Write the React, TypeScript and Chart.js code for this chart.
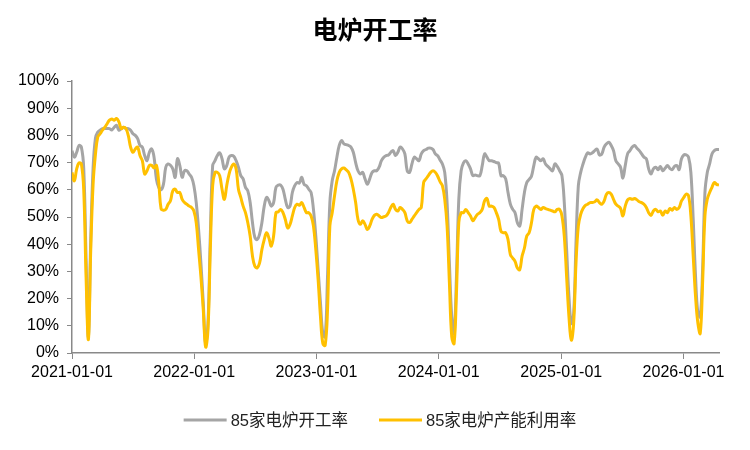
import React, { useEffect, useRef } from "react";
import { Chart, registerables } from "chart.js";

Chart.register(...registerables);

const TITLE = "电炉开工率";
const SERIES_NAMES = ["85家电炉开工率", "85家电炉产能利用率"];
const START_DATE = "2021-01-01";
const X_TICK_YEARS = [2021, 2022, 2023, 2024, 2025, 2026];
const Y_TICKS = [0, 10, 20, 30, 40, 50, 60, 70, 80, 90, 100];

// 85家电炉开工率 (weekly, %)
const operatingRate = [
  74.4, 72, 73.8, 76.3, 75.7, 68, 35, 6, 42, 68,
  79, 81.2, 81.9, 82.5, 82.5, 82.5, 82.5, 82, 83, 83.7,
  81.9, 82.5, 83, 82.5, 82.5, 81.9, 80.6, 80, 78.8, 76.3,
  75.7, 72.6, 70.7, 73.8, 75, 72, 64, 60.9, 60, 62,
  68.3, 69.5, 69, 67.7, 64.6, 71.4, 68.9, 64.6, 67, 67,
  65.8, 64.6, 61.5, 55.3, 45.4, 33, 18.3, 3.5, 10.9, 43,
  68.9, 70.7, 72.6, 73.6, 71.4, 67.7, 68.9, 72, 72.6, 72.3,
  70.7, 68.3, 65.2, 64, 60.9, 59.6, 55.3, 47.9, 42.5, 41.7,
  43.6, 47.9, 54, 57.2, 56, 54, 55.3, 60.9, 61.7, 61.7,
  60.2, 56.5, 53.5, 54, 59, 61.5, 62.7, 62.5, 64.6, 62,
  61.5, 60.2, 59, 52.8, 43, 30.6, 18.3, 7.2, 5.9, 28,
  55.3, 63.3, 67, 72, 76.3, 78.1, 76.9, 76.6, 76.3, 75.7,
  73.8, 70, 67, 65.8, 66.4, 64, 62, 64, 66.4, 67,
  67, 68.3, 70.7, 72, 72.6, 72.8, 73.8, 74.4, 72.6, 73.8,
  75.7, 75, 73.2, 67, 66.4, 69.5, 72, 71.4, 70.7, 73.2,
  74.4, 74.8, 75.3, 75.3, 74.8, 73.2, 72.5, 71, 69.5, 66.4,
  55.3, 33, 13.3, 7.2, 28, 56.5, 67, 69.9, 70.7, 69.5,
  67.7, 65.2, 65.4, 65.2, 65.2, 68.9, 73.2, 72, 70.7, 70.7,
  70.4, 70, 69.8, 65.2, 65.2, 64, 59, 54.7, 52.8, 51.6,
  47.9, 46.7, 52.8, 59, 62.7, 63.8, 65, 68.9, 72, 71.4,
  70.7, 71.4, 69.5, 68.6, 67.7, 67, 69.5, 68.6, 67, 65.2,
  55.3, 38, 20.7, 10.9, 14.6, 40.5, 61.5, 66.4, 69.5, 72,
  73.6, 73.2, 73.6, 74.4, 75, 72.8, 73.2, 75.7, 76.9, 77.5,
  76.3, 74.4, 70.7, 69.5, 68.3, 64.3, 68.9, 73.2, 74.4, 75.7,
  76.3, 75.3, 74.4, 73.2, 72, 71.4, 67.7, 65.8, 67.7, 68.3,
  67.4, 68.6, 67, 67.9, 68.9, 67.9, 67.4, 68.6, 68.9, 67.4,
  71.4, 72.8, 72.8, 72, 66.4, 49.1, 28, 14.6, 13.3, 30.6,
  59, 66.4, 69.5, 73.2, 74.4, 74.8, 74.8,
];

// 85家电炉产能利用率 (weekly, %)
const capacityUtil = [
  66.4, 63.3, 67.7, 69.9, 69.5, 60, 28, 5, 38, 62,
  73, 79.4, 80.6, 81.9, 83, 84.3, 85.6, 86, 85.6, 86.2,
  85, 82.5, 83, 82.5, 80, 75.7, 73.8, 75, 75.7, 72.6,
  70.7, 65.8, 67, 68.9, 69, 68, 69, 62.7, 53, 52.5,
  52.8, 54.7, 56, 59.6, 60.2, 59, 59, 56.5, 55.3, 54.7,
  54, 53.5, 52.2, 47.9, 38, 28, 15.8, 2.2, 8.4, 38,
  61.5, 66.4, 66.4, 65.2, 60.2, 56.5, 61.5, 65.8, 68.3, 69.5,
  67.7, 60.2, 57.2, 54, 51.6, 47.9, 43, 35.6, 31.9, 31.3,
  33, 38, 41.7, 44.2, 42.3, 39.3, 43, 51.6, 51.9, 52.8,
  51.6, 49.1, 46, 47.3, 50.4, 53.5, 54.7, 54.3, 55.3, 53.5,
  51.6, 51.6, 50.4, 46.7, 38, 26.9, 13.3, 3.5, 2.8, 15.8,
  46.7, 51.6, 57.8, 63.3, 66.4, 67.7, 68, 67.3, 66.4, 64,
  60.2, 55.3, 49.1, 47.3, 48.6, 47.3, 45.4, 46.7, 49.1, 50.6,
  51, 50.4, 49.8, 50.1, 50.4, 51.6, 53.5, 54.7, 52.8, 52.2,
  53.5, 52.8, 51.6, 48.6, 48, 49.1, 50.4, 51.6, 52.8, 53.5,
  62.7, 64, 65.2, 66.4, 67, 66.4, 65, 63, 61.5, 56.5,
  46.7, 25.7, 5.9, 3.5, 22, 47.9, 51.6, 51.6, 52.8, 51.6,
  50.4, 48.6, 49.8, 51, 51.6, 52.8, 55.9, 56.8, 54, 54,
  53.5, 51.6, 49.1, 44.8, 44.2, 44.2, 41.7, 36.2, 34.9, 33.7,
  31.2, 30.6, 35.6, 38.6, 43, 44.2, 47.9, 52.8, 54, 53.5,
  52.8, 53.5, 53.1, 52.8, 52.5, 52.2, 51.9, 52.8, 52.8, 50.4,
  43, 28, 13.3, 4.7, 10.9, 33, 46.7, 51, 53.1, 54.3,
  54.7, 55.3, 55.3, 55.6, 56.3, 55.3, 54.7, 55.9, 58.4, 59,
  58.4, 56.5, 54.7, 54, 53.2, 50.4, 54, 56.3, 56.8, 56.5,
  56.8, 56.3, 55.6, 55.3, 54.7, 53.5, 51.6, 50.6, 52.2, 52.8,
  51.9, 52.2, 50.6, 52.2, 51.6, 53.1, 52.5, 53.5, 52.8, 53.5,
  55.9, 57.2, 58.4, 57.8, 50.4, 35.6, 20.7, 10.9, 7.2, 25.7,
  50.4, 56.5, 59, 60.9, 62.7, 62, 61.7,
];

const COLORS = ["#A5A5A5", "#FFC000"];
const FONT = "'Liberation Sans', Arial, 'Noto Sans CJK SC', sans-serif";
const DAY = 86400000;

export default function App() {
  const ref = useRef<HTMLCanvasElement | null>(null);

  useEffect(() => {
    if (!ref.current) return;
    const start = Date.parse(START_DATE + "T00:00:00Z");
    const weekDates = operatingRate.map((_, i) => start + i * 7 * DAY);
    const toPts = (arr: number[]) => arr.map((v, i) => ({ x: weekDates[i], y: v }));

    const legendPlugin = {
      id: "customLegend",
      afterDraw(chart: any) {
        const ctx = chart.ctx as CanvasRenderingContext2D;
        ctx.save();
        ctx.font = `16.5px ${FONT}`;
        const lineLen = 43;
        const gap = 4;
        const itemGap = 31;
        const widths = SERIES_NAMES.map((n) => ctx.measureText(n).width);
        const total = widths.reduce((a, w) => a + lineLen + gap + w, 0) + itemGap * (SERIES_NAMES.length - 1);
        let x = 380 - total / 2;
        const y = 420;
        SERIES_NAMES.forEach((name, i) => {
          ctx.strokeStyle = COLORS[i];
          ctx.lineWidth = 3;
          ctx.beginPath();
          ctx.moveTo(x, y);
          ctx.lineTo(x + lineLen, y);
          ctx.stroke();
          x += lineLen + gap;
          ctx.fillStyle = "#222";
          ctx.textBaseline = "middle";
          ctx.textAlign = "left";
          ctx.fillText(name, x, y + 1);
          x += widths[i] + itemGap;
        });
        ctx.restore();
      },
    };

    const chart = new Chart(ref.current, {
      type: "line",
      data: {
        datasets: [
          {
            label: SERIES_NAMES[0],
            data: toPts(operatingRate),
            borderColor: COLORS[0],
            backgroundColor: COLORS[0],
            borderWidth: 3,
            pointRadius: 0,
            tension: 0.4,
            order: 1,
          },
          {
            label: SERIES_NAMES[1],
            data: toPts(capacityUtil),
            borderColor: COLORS[1],
            backgroundColor: COLORS[1],
            borderWidth: 3,
            pointRadius: 0,
            tension: 0.4,
            order: 0,
          },
        ],
      },
      options: {
        animation: false,
        responsive: true,
        maintainAspectRatio: false,
        layout: { padding: { left: 0, right: 0, top: 0, bottom: 0 } },
        plugins: {
          legend: { display: false },
          tooltip: { enabled: false },
          title: {
            display: true,
            text: TITLE,
            color: "#000",
            font: { size: 25, weight: "bold", family: FONT },
            padding: { top: 17, bottom: 34 },
          },
        },
        scales: {
          x: {
            type: "linear",
            min: start,
            max: weekDates[weekDates.length - 1],
            afterBuildTicks: (s: any) => {
              s.ticks = X_TICK_YEARS.map((y) => ({ value: Date.UTC(y, 0, 1) }));
            },
            afterFit: (s: any) => {
              s.height = 97;
              s.paddingRight = 31;
            },
            ticks: {
              autoSkip: false,
              maxRotation: 0,
              color: "#000",
              padding: 4,
              font: { size: 16, family: FONT },
              callback: (v: any) => {
                const d = new Date(Number(v));
                return `${d.getUTCFullYear()}-01-01`;
              },
            },
            grid: { drawOnChartArea: false, drawTicks: true, tickLength: 6, color: "#898989" },
            border: { display: true, color: "#898989", width: 1.5 },
          },
          y: {
            min: 0,
            max: 100,
            afterBuildTicks: (s: any) => {
              s.ticks = Y_TICKS.map((v) => ({ value: v }));
            },
            afterFit: (s: any) => {
              s.width = 72;
            },
            ticks: {
              color: "#000",
              padding: 8,
              font: { size: 16, family: FONT },
              callback: (v: any) => `${v}%`,
            },
            grid: { drawOnChartArea: false, drawTicks: true, tickLength: 5, color: "#898989" },
            border: { display: true, color: "#898989", width: 1.5 },
          },
        },
      },
      plugins: [legendPlugin],
    } as any);
    return () => chart.destroy();
  }, []);

  return (
    <div style={{ position: "fixed", left: 0, top: 0, width: 750, height: 450, background: "#fff" }}>
      <canvas ref={ref} />
    </div>
  );
}
